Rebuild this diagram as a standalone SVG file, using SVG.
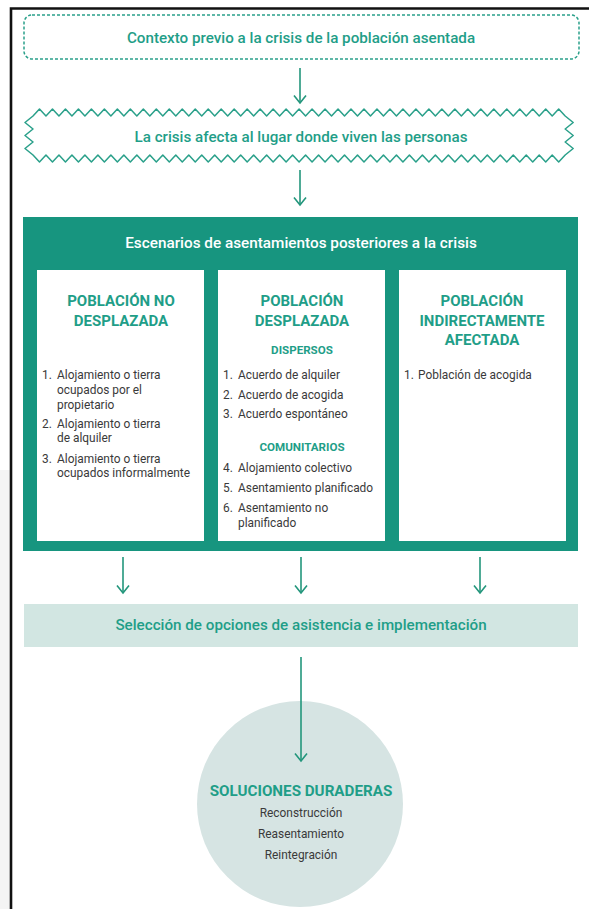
<svg xmlns="http://www.w3.org/2000/svg" width="589" height="909" viewBox="0 0 589 909">
<style>
.t{font-family:Roboto,"Liberation Sans",sans-serif;}
.head{font-size:15.2px;font-weight:500;fill:#1f9e88;text-anchor:middle;}
.white{font-size:15.3px;font-weight:500;fill:#ffffff;text-anchor:middle;}
.title{font-size:15px;font-weight:700;fill:#1f9e88;text-anchor:middle;}
.sub{font-size:11.6px;font-weight:700;fill:#1f9e88;text-anchor:middle;}
.body{font-size:11.9px;fill:#3a3a3a;}
.ctr{text-anchor:middle;}
.conn{stroke:#23967c;stroke-width:1.6;fill:none;marker-end:url(#ah);}
</style>
<defs>
<marker id="ah" viewBox="0 0 10 14" refX="8.5" refY="7" markerWidth="10" markerHeight="14" markerUnits="userSpaceOnUse" orient="auto">
<path d="M1,1 L8.5,7 L1,13" fill="none" stroke="#23967c" stroke-width="1.6"/>
</marker>
</defs>
<rect width="589" height="909" fill="#ffffff"/>
<rect x="0" y="470" width="10" height="439" fill="#f4f4f4"/>
<path d="M11,909 V8.5 H589" fill="none" stroke="#111111" stroke-width="2.6"/>

<g id="contexto">
<rect x="24" y="15" width="555" height="44" rx="8" fill="#ffffff" stroke="#2aa08a" stroke-width="1.5" stroke-dasharray="3,2"/>
<text class="t head" x="301" y="43">Contexto previo a la crisis de la población asentada</text>
</g>

<g id="crisis">
<path d="M33,116
l6.49,-7 6.49,7 6.49,-7 6.49,7 6.49,-7 6.49,7 6.49,-7 6.49,7 6.49,-7 6.49,7
l6.49,-7 6.49,7 6.49,-7 6.49,7 6.49,-7 6.49,7 6.49,-7 6.49,7 6.49,-7 6.49,7
l6.49,-7 6.49,7 6.49,-7 6.49,7 6.49,-7 6.49,7 6.49,-7 6.49,7 6.49,-7 6.49,7
l6.49,-7 6.49,7 6.49,-7 6.49,7 6.49,-7 6.49,7 6.49,-7 6.49,7 6.49,-7 6.49,7
l6.49,-7 6.49,7 6.49,-7 6.49,7 6.49,-7 6.49,7 6.49,-7 6.49,7 6.49,-7 6.49,7
l6.49,-7 6.49,7 6.49,-7 6.49,7 6.49,-7 6.49,7 6.49,-7 6.49,7 6.49,-7 6.49,7
l6.49,-7 6.49,7 6.49,-7 6.49,7 6.49,-7 6.49,7 6.49,-7 6.49,7 6.49,-7 6.49,7
l6.49,-7 6.49,7 6.49,-7 6.49,7 6.49,-7 6.49,7 6.49,-7 6.49,7 6.49,-7 6.49,7
l6.49,-7 6.49,7
l8,6.5 -8,6.5 8,6.5 -8,6.5 8,6.5 -8,6.5
l-6.49,7 -6.49,-7 -6.49,7 -6.49,-7 -6.49,7 -6.49,-7 -6.49,7 -6.49,-7 -6.49,7 -6.49,-7
l-6.49,7 -6.49,-7 -6.49,7 -6.49,-7 -6.49,7 -6.49,-7 -6.49,7 -6.49,-7 -6.49,7 -6.49,-7
l-6.49,7 -6.49,-7 -6.49,7 -6.49,-7 -6.49,7 -6.49,-7 -6.49,7 -6.49,-7 -6.49,7 -6.49,-7
l-6.49,7 -6.49,-7 -6.49,7 -6.49,-7 -6.49,7 -6.49,-7 -6.49,7 -6.49,-7 -6.49,7 -6.49,-7
l-6.49,7 -6.49,-7 -6.49,7 -6.49,-7 -6.49,7 -6.49,-7 -6.49,7 -6.49,-7 -6.49,7 -6.49,-7
l-6.49,7 -6.49,-7 -6.49,7 -6.49,-7 -6.49,7 -6.49,-7 -6.49,7 -6.49,-7 -6.49,7 -6.49,-7
l-6.49,7 -6.49,-7 -6.49,7 -6.49,-7 -6.49,7 -6.49,-7 -6.49,7 -6.49,-7 -6.49,7 -6.49,-7
l-6.49,7 -6.49,-7 -6.49,7 -6.49,-7 -6.49,7 -6.49,-7 -6.49,7 -6.49,-7 -6.49,7 -6.49,-7
l-6.49,7 -6.49,-7
l-8,-6.5 8,-6.5 -8,-6.5 8,-6.5 -8,-6.5 8,-6.5 Z" fill="#ffffff" stroke="#2aa08a" stroke-width="1.5" stroke-linejoin="round"/>
<text class="t head" x="301" y="142">La crisis afecta al lugar donde viven las personas</text>
</g>

<g id="escenarios">
<rect x="23" y="217" width="555" height="334" fill="#17957f"/>
<text class="t white" x="301" y="248">Escenarios de asentamientos posteriores a la crisis</text>
</g>

<g id="no-desplazada">
<rect x="37" y="270" width="167" height="271" fill="#ffffff"/>
<text class="t title" x="121" y="306">POBLACIÓN NO</text>
<text class="t title" x="121" y="326">DESPLAZADA</text>
<text class="t body" x="42" y="379">1.</text>
<text class="t body" x="57" y="379">Alojamiento o tierra</text>
<text class="t body" x="57" y="394">ocupados por el</text>
<text class="t body" x="57" y="409">propietario</text>
<text class="t body" x="42" y="428">2.</text>
<text class="t body" x="57" y="428">Alojamiento o tierra</text>
<text class="t body" x="57" y="442">de alquiler</text>
<text class="t body" x="42" y="463">3.</text>
<text class="t body" x="57" y="463">Alojamiento o tierra</text>
<text class="t body" x="57" y="477">ocupados informalmente</text>
</g>

<g id="desplazada">
<rect x="218" y="270" width="167" height="271" fill="#ffffff"/>
<text class="t title" x="302" y="306">POBLACIÓN</text>
<text class="t title" x="302" y="326">DESPLAZADA</text>
<text class="t sub" x="302" y="354">DISPERSOS</text>
<text class="t body" x="223" y="379">1.</text>
<text class="t body" x="238" y="379">Acuerdo de alquiler</text>
<text class="t body" x="223" y="399">2.</text>
<text class="t body" x="238" y="399">Acuerdo de acogida</text>
<text class="t body" x="223" y="418">3.</text>
<text class="t body" x="238" y="418">Acuerdo espontáneo</text>
<text class="t sub" x="302" y="451">COMUNITARIOS</text>
<text class="t body" x="223" y="472">4.</text>
<text class="t body" x="238" y="472">Alojamiento colectivo</text>
<text class="t body" x="223" y="492">5.</text>
<text class="t body" x="238" y="492">Asentamiento planificado</text>
<text class="t body" x="223" y="512">6.</text>
<text class="t body" x="238" y="512">Asentamiento no</text>
<text class="t body" x="238" y="527">planificado</text>
</g>

<g id="indirecta">
<rect x="399" y="270" width="167" height="271" fill="#ffffff"/>
<text class="t title" x="482" y="306">POBLACIÓN</text>
<text class="t title" x="482" y="326">INDIRECTAMENTE</text>
<text class="t title" x="482" y="345">AFECTADA</text>
<text class="t body" x="404" y="379">1.</text>
<text class="t body" x="418" y="379">Población de acogida</text>
</g>

<g id="seleccion">
<rect x="24" y="604" width="554" height="43" fill="#d2e6e2"/>
<text class="t head" x="301" y="630">Selección de opciones de asistencia e implementación</text>
</g>

<g id="soluciones">
<circle cx="300" cy="804" r="103" fill="#d6e4e3"/>
<text class="t title" x="301" y="796" style="font-size:15.2px">SOLUCIONES DURADERAS</text>
<text class="t body ctr" x="301" y="817">Reconstrucción</text>
<text class="t body ctr" x="301" y="838">Reasentamiento</text>
<text class="t body ctr" x="301" y="859">Reintegración</text>
</g>

<g id="connectors">
<line class="conn" x1="300" y1="68" x2="300" y2="103"/>
<line class="conn" x1="300" y1="170" x2="300" y2="205"/>
<line class="conn" x1="123" y1="557" x2="123" y2="593"/>
<line class="conn" x1="301" y1="557" x2="301" y2="593"/>
<line class="conn" x1="480" y1="557" x2="480" y2="593"/>
<line class="conn" x1="301" y1="657" x2="301" y2="761"/>
</g>
</svg>
